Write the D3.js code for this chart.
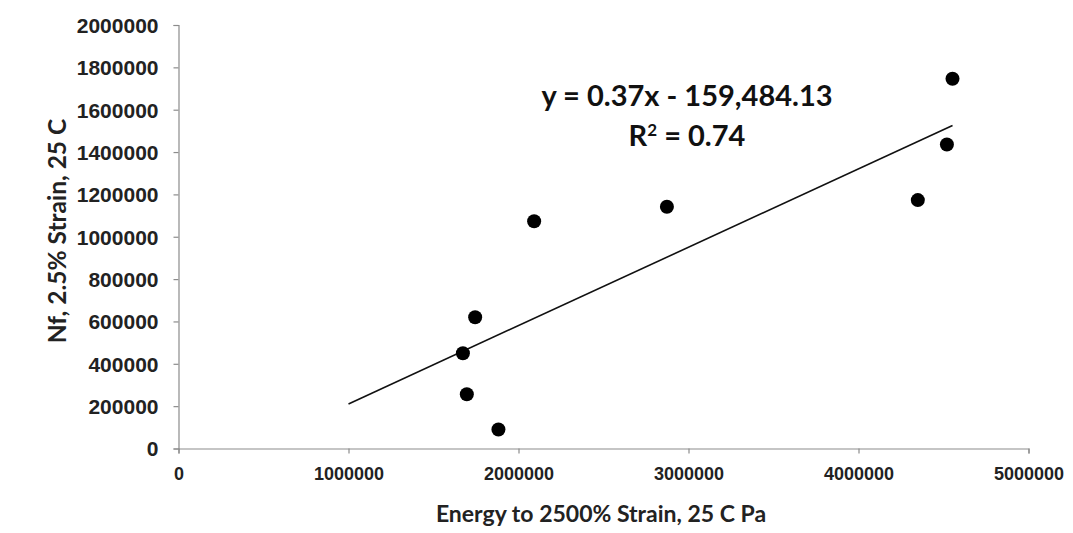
<!DOCTYPE html>
<html>
<head>
<meta charset="utf-8">
<script src="https://cdn.jsdelivr.net/npm/d3@7"></script>
<style>
  body { margin: 0; background: #fff; }
  svg { display: block; font-family: Lato, "Open Sans", sans-serif; }
</style>
</head>
<body>
<svg id="chart" width="1073" height="533"></svg>
<script>
// energy to 2500% strain (Pa) and Nf at 2.5% strain
var energy = [1673000, 1696000, 1745000, 1882000, 2092000, 2873000, 4349000, 4520000, 4553000];
var cycles = [450000, 256000, 620000, 89500, 1073000, 1142000, 1173000, 1436000, 1746000];
var xTicks = [0, 1000000, 2000000, 3000000, 4000000, 5000000];
var yTicks = [0, 200000, 400000, 600000, 800000, 1000000, 1200000, 1400000, 1600000, 1800000, 2000000];
var slope = 0.37;
var intercept = -159484.13;
var trendStart = 1000000;

var svg = d3.select("#chart");
var plotLeft = 178.5, plotRight = 1028.5, plotTop = 25, plotBottom = 448.5;

var xScale = d3.scaleLinear().domain([0, 5000000]).range([plotLeft, plotRight]);
var yScale = d3.scaleLinear().domain([0, 2000000]).range([plotBottom, plotTop]);

var xAxis = svg.append("g")
    .attr("transform", "translate(0," + plotBottom + ")")
    .call(d3.axisBottom(xScale).tickValues(xTicks).tickFormat(d3.format("d")).tickSizeOuter(0).tickSize(5).tickPadding(14));
var yAxis = svg.append("g")
    .attr("transform", "translate(" + plotLeft + ",0)")
    .call(d3.axisLeft(yScale).tickValues(yTicks).tickFormat(d3.format("d")).tickSizeOuter(0).tickSize(5).tickPadding(15));

svg.selectAll(".domain, .tick line").attr("stroke", "#8c8c8c").attr("stroke-width", 1.2);
svg.selectAll(".tick text")
    .attr("fill", "#222")
    .style("font-weight", "bold");
xAxis.selectAll(".tick text").style("font-size", "18px");
yAxis.selectAll(".tick text").style("font-size", "21px").attr("dy", "0.35em");

// trendline
var xMax = d3.max(energy);
svg.append("line")
    .attr("x1", xScale(trendStart))
    .attr("y1", yScale(slope * trendStart + intercept))
    .attr("x2", xScale(xMax))
    .attr("y2", yScale(slope * xMax + intercept))
    .attr("stroke", "#111")
    .attr("stroke-width", 1.6);

svg.selectAll("circle")
    .data(energy)
    .enter()
    .append("circle")
    .attr("cx", function(d) { return xScale(d); })
    .attr("cy", function(d, i) { return yScale(cycles[i]); })
    .attr("r", 7)
    .attr("fill", "#000");

// equation label
svg.append("text")
    .attr("x", 687)
    .attr("y", 106)
    .attr("text-anchor", "middle")
    .attr("fill", "#111")
    .style("font-size", "29px")
    .style("font-weight", "bold")
    .text("y = 0.37x - 159,484.13");
var r2 = svg.append("text")
    .attr("x", 687)
    .attr("y", 146)
    .attr("text-anchor", "middle")
    .attr("fill", "#111")
    .style("font-size", "29px")
    .style("font-weight", "bold");
r2.append("tspan").text("R");
r2.append("tspan").attr("dy", -10).style("font-size", "17px").text("2");
r2.append("tspan").attr("dy", 10).text(" = 0.74");

// axis titles
svg.append("text")
    .attr("x", 601)
    .attr("y", 522)
    .attr("text-anchor", "middle")
    .attr("fill", "#222")
    .style("font-size", "23px")
    .style("font-weight", "bold")
    .text("Energy to 2500% Strain, 25 C Pa");
svg.append("text")
    .attr("transform", "translate(66,231) rotate(-90)")
    .attr("text-anchor", "middle")
    .attr("fill", "#222")
    .style("font-size", "24.5px")
    .style("font-weight", "bold")
    .text("Nf, 2.5% Strain, 25 C");
</script>
</body>
</html>
